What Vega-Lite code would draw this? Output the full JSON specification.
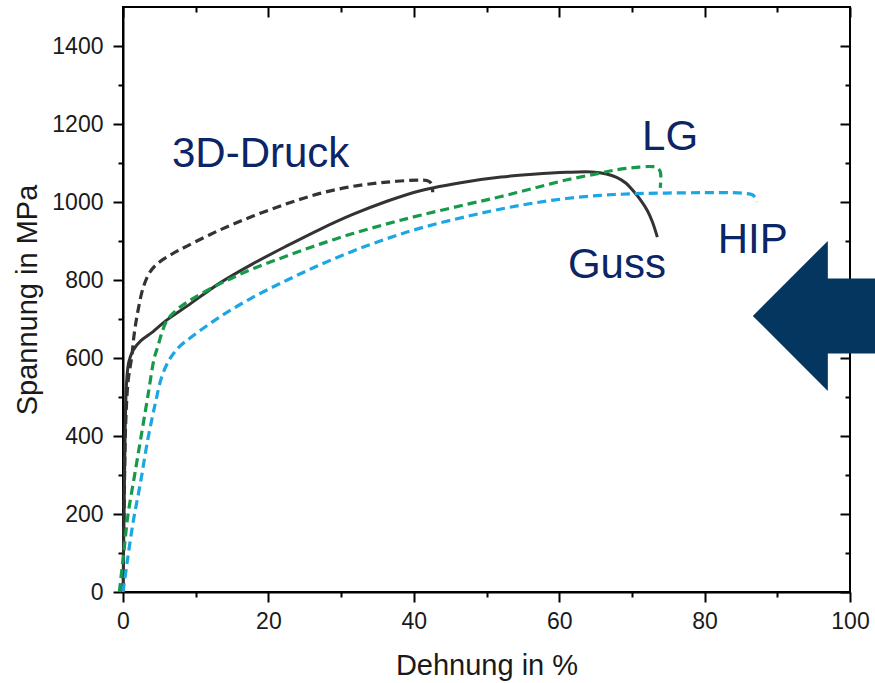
{
  "$schema": "https://vega.github.io/schema/vega-lite/v6.json",
  "width": 727,
  "height": 585,
  "autosize": "none",
  "padding": {"left": 123, "top": 7, "right": 25, "bottom": 91},
  "background": "white",
  "config": {
    "view": {"stroke": "black", "strokeWidth": 2},
    "font": "Liberation Sans",
    "axis": {
      "grid": false,
      "domainColor": "black",
      "domainWidth": 2,
      "tickColor": "black",
      "tickWidth": 2,
      "labelFont": "Liberation Sans",
      "labelFontSize": 23,
      "labelColor": "#1a1a1a",
      "titleFont": "Liberation Sans",
      "titleFontSize": 29,
      "titleFontWeight": "normal",
      "titleColor": "#1a1a1a"
    }
  },
  "datasets": {
    "curves": [
      {"s": "Guss", "i": 0, "x": 0, "y": 0},
      {"s": "Guss", "i": 1, "x": 0.15, "y": 200},
      {"s": "Guss", "i": 2, "x": 0.3, "y": 420},
      {"s": "Guss", "i": 3, "x": 0.5, "y": 540},
      {"s": "Guss", "i": 4, "x": 0.8, "y": 590},
      {"s": "Guss", "i": 5, "x": 1.4, "y": 620},
      {"s": "Guss", "i": 6, "x": 2.5, "y": 645},
      {"s": "Guss", "i": 7, "x": 4.1, "y": 667},
      {"s": "Guss", "i": 8, "x": 6, "y": 697},
      {"s": "Guss", "i": 9, "x": 8.8, "y": 733},
      {"s": "Guss", "i": 10, "x": 13.3, "y": 792},
      {"s": "Guss", "i": 11, "x": 17.9, "y": 842},
      {"s": "Guss", "i": 12, "x": 22.6, "y": 888},
      {"s": "Guss", "i": 13, "x": 27.1, "y": 930},
      {"s": "Guss", "i": 14, "x": 31.6, "y": 968},
      {"s": "Guss", "i": 15, "x": 36.3, "y": 1002},
      {"s": "Guss", "i": 16, "x": 40.9, "y": 1029},
      {"s": "Guss", "i": 17, "x": 47.3, "y": 1052},
      {"s": "Guss", "i": 18, "x": 52, "y": 1064},
      {"s": "Guss", "i": 19, "x": 56.4, "y": 1071},
      {"s": "Guss", "i": 20, "x": 61, "y": 1076},
      {"s": "Guss", "i": 21, "x": 64.5, "y": 1077},
      {"s": "Guss", "i": 22, "x": 66.5, "y": 1072},
      {"s": "Guss", "i": 23, "x": 67.9, "y": 1063},
      {"s": "Guss", "i": 24, "x": 69.2, "y": 1048},
      {"s": "Guss", "i": 25, "x": 70.2, "y": 1028},
      {"s": "Guss", "i": 26, "x": 71.2, "y": 1005},
      {"s": "Guss", "i": 27, "x": 72.1, "y": 979},
      {"s": "Guss", "i": 28, "x": 72.8, "y": 950},
      {"s": "Guss", "i": 29, "x": 73.5, "y": 910},

      {"s": "3D-Druck", "i": 0, "x": 0, "y": 0},
      {"s": "3D-Druck", "i": 1, "x": 0.15, "y": 200},
      {"s": "3D-Druck", "i": 2, "x": 0.35, "y": 420},
      {"s": "3D-Druck", "i": 3, "x": 0.7, "y": 540},
      {"s": "3D-Druck", "i": 4, "x": 1.2, "y": 603},
      {"s": "3D-Druck", "i": 5, "x": 1.5, "y": 655},
      {"s": "3D-Druck", "i": 6, "x": 1.9, "y": 705},
      {"s": "3D-Druck", "i": 7, "x": 2.8, "y": 782},
      {"s": "3D-Druck", "i": 8, "x": 3.7, "y": 820},
      {"s": "3D-Druck", "i": 9, "x": 4.8, "y": 843},
      {"s": "3D-Druck", "i": 10, "x": 6.5, "y": 864},
      {"s": "3D-Druck", "i": 11, "x": 8.8, "y": 887},
      {"s": "3D-Druck", "i": 12, "x": 13.3, "y": 928},
      {"s": "3D-Druck", "i": 13, "x": 17.9, "y": 964},
      {"s": "3D-Druck", "i": 14, "x": 22.6, "y": 996},
      {"s": "3D-Druck", "i": 15, "x": 27.1, "y": 1022},
      {"s": "3D-Druck", "i": 16, "x": 31.6, "y": 1040},
      {"s": "3D-Druck", "i": 17, "x": 36.3, "y": 1051},
      {"s": "3D-Druck", "i": 18, "x": 40.5, "y": 1056},
      {"s": "3D-Druck", "i": 19, "x": 41.8, "y": 1055},
      {"s": "3D-Druck", "i": 20, "x": 42.4, "y": 1048},
      {"s": "3D-Druck", "i": 21, "x": 42.6, "y": 1025},

      {"s": "LG", "i": 0, "x": -0.5, "y": 0},
      {"s": "LG", "i": 1, "x": 0.1, "y": 100},
      {"s": "LG", "i": 2, "x": 0.7, "y": 200},
      {"s": "LG", "i": 3, "x": 1.6, "y": 300},
      {"s": "LG", "i": 4, "x": 2.5, "y": 400},
      {"s": "LG", "i": 5, "x": 3.4, "y": 500},
      {"s": "LG", "i": 6, "x": 4.3, "y": 600},
      {"s": "LG", "i": 7, "x": 4.8, "y": 630},
      {"s": "LG", "i": 8, "x": 5.4, "y": 668},
      {"s": "LG", "i": 9, "x": 6, "y": 695},
      {"s": "LG", "i": 10, "x": 7, "y": 717},
      {"s": "LG", "i": 11, "x": 8.8, "y": 743},
      {"s": "LG", "i": 12, "x": 13.3, "y": 790},
      {"s": "LG", "i": 13, "x": 17.9, "y": 829},
      {"s": "LG", "i": 14, "x": 22.6, "y": 862},
      {"s": "LG", "i": 15, "x": 27.1, "y": 892},
      {"s": "LG", "i": 16, "x": 31.6, "y": 919},
      {"s": "LG", "i": 17, "x": 36.3, "y": 944},
      {"s": "LG", "i": 18, "x": 40.9, "y": 966},
      {"s": "LG", "i": 19, "x": 47.3, "y": 994},
      {"s": "LG", "i": 20, "x": 52, "y": 1014},
      {"s": "LG", "i": 21, "x": 56.4, "y": 1035},
      {"s": "LG", "i": 22, "x": 61.1, "y": 1057},
      {"s": "LG", "i": 23, "x": 65.6, "y": 1074},
      {"s": "LG", "i": 24, "x": 68, "y": 1083},
      {"s": "LG", "i": 25, "x": 70.2, "y": 1088},
      {"s": "LG", "i": 26, "x": 72.5, "y": 1091},
      {"s": "LG", "i": 27, "x": 73.4, "y": 1089},
      {"s": "LG", "i": 28, "x": 73.9, "y": 1078},
      {"s": "LG", "i": 29, "x": 73.9, "y": 1036},

      {"s": "HIP", "i": 0, "x": 0, "y": 0},
      {"s": "HIP", "i": 1, "x": 0.6, "y": 80},
      {"s": "HIP", "i": 2, "x": 1.4, "y": 180},
      {"s": "HIP", "i": 3, "x": 2.4, "y": 280},
      {"s": "HIP", "i": 4, "x": 3.4, "y": 390},
      {"s": "HIP", "i": 5, "x": 4.4, "y": 480},
      {"s": "HIP", "i": 6, "x": 5.3, "y": 550},
      {"s": "HIP", "i": 7, "x": 6.2, "y": 590},
      {"s": "HIP", "i": 8, "x": 7, "y": 613},
      {"s": "HIP", "i": 9, "x": 7.8, "y": 630},
      {"s": "HIP", "i": 10, "x": 9.5, "y": 655},
      {"s": "HIP", "i": 11, "x": 13.3, "y": 705},
      {"s": "HIP", "i": 12, "x": 17.9, "y": 756},
      {"s": "HIP", "i": 13, "x": 22.6, "y": 800},
      {"s": "HIP", "i": 14, "x": 27.1, "y": 839},
      {"s": "HIP", "i": 15, "x": 31.6, "y": 874},
      {"s": "HIP", "i": 16, "x": 36.3, "y": 906},
      {"s": "HIP", "i": 17, "x": 40.9, "y": 933},
      {"s": "HIP", "i": 18, "x": 47.3, "y": 963},
      {"s": "HIP", "i": 19, "x": 52, "y": 982},
      {"s": "HIP", "i": 20, "x": 56.4, "y": 997},
      {"s": "HIP", "i": 21, "x": 61, "y": 1009},
      {"s": "HIP", "i": 22, "x": 65.6, "y": 1017},
      {"s": "HIP", "i": 23, "x": 70, "y": 1021},
      {"s": "HIP", "i": 24, "x": 74.8, "y": 1023},
      {"s": "HIP", "i": 25, "x": 80, "y": 1024},
      {"s": "HIP", "i": 26, "x": 83.9, "y": 1024},
      {"s": "HIP", "i": 27, "x": 85.5, "y": 1022},
      {"s": "HIP", "i": 28, "x": 86.7, "y": 1017},
      {"s": "HIP", "i": 29, "x": 87.2, "y": 1000}
    ],
    "labels": [
      {"label": "3D-Druck", "x": 6.74, "y": 1090},
      {"label": "LG", "x": 71.4, "y": 1133},
      {"label": "Guss", "x": 61.2, "y": 805},
      {"label": "HIP", "x": 81.8, "y": 869}
    ],
    "arrow": [
      {"x": 95.3, "y": 708}
    ]
  },
  "resolve": {"axis": {"x": "independent", "y": "independent"}},
  "layer": [
    {
      "data": {"name": "curves"},
      "transform": [{"filter": "datum.s === 'Guss'"}],
      "mark": {"type": "line", "strokeWidth": 3, "color": "#333333", "clip": false, "interpolate": "catmull-rom"},
      "encoding": {
        "x": {"field": "x", "type": "quantitative",
              "scale": {"domain": [0, 100], "nice": false, "zero": false},
              "axis": {"orient": "bottom", "values": [0, 20, 40, 60, 80, 100], "tickSize": 10, "labelPadding": 8,
                       "title": "Dehnung in %", "titlePadding": 18, "labelFlush": false, "format": "d"}},
        "y": {"field": "y", "type": "quantitative",
              "scale": {"domain": [0, 1500], "nice": false, "zero": false},
              "axis": {"orient": "left", "values": [0, 200, 400, 600, 800, 1000, 1200, 1400], "tickSize": 10, "labelPadding": 10,
                       "title": "Spannung in MPa", "titlePadding": 9, "format": "d"}},
        "order": {"field": "i", "type": "quantitative"}
      }
    },
    {
      "data": {"name": "curves"},
      "transform": [{"filter": "datum.s !== 'Guss'"}],
      "mark": {"type": "line", "strokeWidth": 3.2, "strokeDash": [9, 5], "clip": false, "interpolate": "catmull-rom"},
      "encoding": {
        "x": {"field": "x", "type": "quantitative",
              "scale": {"domain": [0, 100], "nice": false, "zero": false},
              "axis": {"orient": "bottom", "values": [10, 30, 50, 70, 90], "tickSize": 5, "labels": false, "domain": false, "title": null}},
        "y": {"field": "y", "type": "quantitative",
              "scale": {"domain": [0, 1500], "nice": false, "zero": false},
              "axis": {"orient": "left", "values": [100, 300, 500, 700, 900, 1100, 1300], "tickSize": 5, "labels": false, "domain": false, "title": null}},
        "color": {"field": "s", "type": "nominal", "legend": null,
                  "scale": {"domain": ["3D-Druck", "LG", "HIP"], "range": ["#333333", "#17994a", "#1ca6e4"]}},
        "detail": {"field": "s"},
        "order": {"field": "i", "type": "quantitative"}
      }
    },
    {
      "data": {"name": "labels"},
      "mark": {"type": "text", "align": "left", "baseline": "alphabetic", "fontSize": 42, "font": "Liberation Sans", "color": "#0b2566", "clip": false},
      "encoding": {
        "x": {"field": "x", "type": "quantitative",
              "scale": {"domain": [0, 100], "nice": false, "zero": false},
              "axis": {"orient": "top", "values": [0, 20, 40, 60, 80, 100], "tickSize": -10, "labels": false, "domain": false, "title": null}},
        "y": {"field": "y", "type": "quantitative",
              "scale": {"domain": [0, 1500], "nice": false, "zero": false},
              "axis": {"orient": "right", "values": [0, 200, 400, 600, 800, 1000, 1200, 1400], "tickSize": -10, "labels": false, "domain": false, "title": null}},
        "text": {"field": "label"}
      }
    },
    {
      "data": {"name": "arrow"},
      "mark": {"type": "point", "filled": true, "size": 22500, "opacity": 1, "color": "#04365f", "strokeWidth": 0, "clip": false,
               "shape": "M -0.84 0 L 0.16 -1 L 0.16 -0.5 L 1 -0.5 L 1 0.5 L 0.16 0.5 L 0.16 1 Z"},
      "encoding": {
        "x": {"field": "x", "type": "quantitative",
              "scale": {"domain": [0, 100], "nice": false, "zero": false},
              "axis": {"orient": "top", "values": [10, 30, 50, 70, 90], "tickSize": -5, "labels": false, "domain": false, "title": null}},
        "y": {"field": "y", "type": "quantitative",
              "scale": {"domain": [0, 1500], "nice": false, "zero": false},
              "axis": {"orient": "right", "values": [100, 300, 500, 700, 900, 1100, 1300], "tickSize": -5, "labels": false, "domain": false, "title": null}}
      }
    }
  ]
}
